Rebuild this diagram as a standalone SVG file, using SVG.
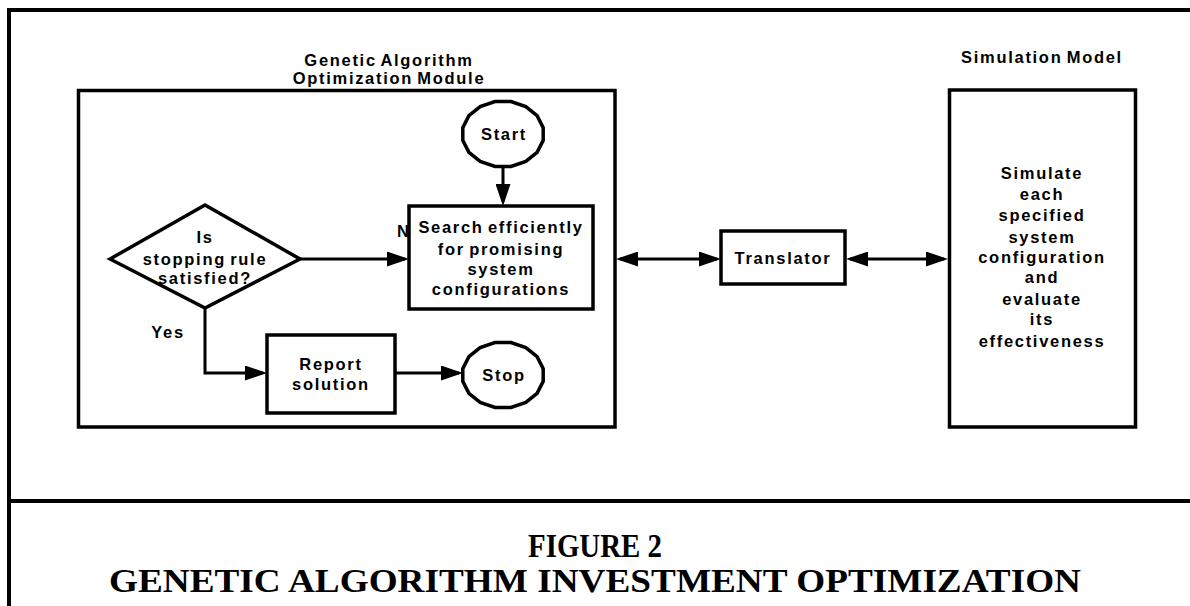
<svg xmlns="http://www.w3.org/2000/svg" width="1190" height="606" viewBox="0 0 1190 606">
  <style>
    .frame { fill: none; stroke: #000; stroke-width: 4; }
    .box { fill: #fff; stroke: #000; stroke-width: 3.5; stroke-linejoin: miter; }
    .wire { fill: none; stroke: #000; stroke-width: 3; }
    .lbl { font-family: "Liberation Sans", Arial, sans-serif; font-weight: bold; font-size: 16.5px; letter-spacing: 1.7px; word-spacing: -2px; text-anchor: middle; fill: #000; }
    .cap { font-family: "Liberation Serif", "Times New Roman", serif; font-weight: bold; font-size: 34px; text-anchor: middle; fill: #000; }
  </style>
  <defs>
    <marker id="head" viewBox="0 0 22 15" refX="18" refY="7.5" markerWidth="22" markerHeight="15" markerUnits="userSpaceOnUse" orient="auto-start-reverse">
      <path d="M0,0 L22,7.5 L0,15 Z" fill="#000"/>
    </marker>
    <!-- sixteen-sided terminal shape, centred on the origin -->
    <polygon id="terminal" points="40.2,6.4 34.1,18.3 22.8,27.4 8,32.4 -8,32.4 -22.8,27.4 -34.1,18.3 -40.2,6.4 -40.2,-6.4 -34.1,-18.3 -22.8,-27.4 -8,-32.4 8,-32.4 22.8,-27.4 34.1,-18.3 40.2,-6.4"/>
  </defs>

  <rect width="1190" height="606" fill="#fff"/>

  <!-- page frame and caption divider -->
  <g id="frame">
    <path class="frame" d="M9,606 V10 H1190"/>
    <line class="frame" x1="7" y1="501" x2="1190" y2="501"/>
  </g>

  <!-- optimisation module container -->
  <g id="ga-module">
    <rect class="box" x="78.5" y="90.5" width="536.5" height="336.5"/>
    <text class="lbl" x="389" y="66">Genetic Algorithm</text>
    <text class="lbl" x="389" y="84">Optimization Module</text>
  </g>

  <!-- simulation model container -->
  <g id="sim-model">
    <rect class="box" x="949.5" y="90" width="186" height="337"/>
    <text class="lbl" x="1042" y="63">Simulation Model</text>
    <text class="lbl" x="1042" y="179">Simulate</text>
    <text class="lbl" x="1042" y="200">each</text>
    <text class="lbl" x="1042" y="221">specified</text>
    <text class="lbl" x="1042" y="243">system</text>
    <text class="lbl" x="1042" y="263">configuration</text>
    <text class="lbl" x="1042" y="283">and</text>
    <text class="lbl" x="1042" y="305">evaluate</text>
    <text class="lbl" x="1042" y="325">its</text>
    <text class="lbl" x="1042" y="347">effectiveness</text>
  </g>

  <!-- connectors -->
  <g id="connectors">
    <line class="wire" x1="503" y1="166" x2="503" y2="202" marker-end="url(#head)"/>
    <line class="wire" x1="300" y1="259" x2="405" y2="259" marker-end="url(#head)"/>
    <path class="wire" d="M205,308 V373 H263" marker-end="url(#head)"/>
    <line class="wire" x1="395" y1="373" x2="459" y2="373" marker-end="url(#head)"/>
    <line class="wire" x1="620" y1="259" x2="717" y2="259" marker-start="url(#head)" marker-end="url(#head)"/>
    <line class="wire" x1="850" y1="259" x2="944" y2="259" marker-start="url(#head)" marker-end="url(#head)"/>
  </g>

  <g id="start">
    <use href="#terminal" x="503" y="134" class="box"/>
    <text class="lbl" x="504" y="140">Start</text>
  </g>

  <g id="decision">
    <polygon class="box" points="110,259 205,205 300,259 205,308"/>
    <text class="lbl" x="205" y="243">Is</text>
    <text class="lbl" x="205" y="265">stopping rule</text>
    <text class="lbl" x="205" y="284">satisfied?</text>
    <text class="lbl" x="168" y="338">Yes</text>
    <text class="lbl" x="397" y="237" style="text-anchor:start">N</text>
  </g>

  <g id="search">
    <rect class="box" x="409" y="206" width="184" height="103"/>
    <text class="lbl" x="501" y="233">Search efficiently</text>
    <text class="lbl" x="501" y="255">for promising</text>
    <text class="lbl" x="501" y="275">system</text>
    <text class="lbl" x="501" y="295">configurations</text>
  </g>

  <g id="report">
    <rect class="box" x="267" y="335" width="128" height="78"/>
    <text class="lbl" x="331" y="370">Report</text>
    <text class="lbl" x="331" y="390">solution</text>
  </g>

  <g id="stop">
    <use href="#terminal" x="503" y="375" class="box"/>
    <text class="lbl" x="504" y="381">Stop</text>
  </g>

  <g id="translator">
    <rect class="box" x="721" y="231" width="124" height="53"/>
    <text class="lbl" x="783" y="264">Translator</text>
  </g>

  <!-- caption -->
  <g id="caption">
    <text class="cap" x="595" y="557" textLength="134" lengthAdjust="spacingAndGlyphs">FIGURE 2</text>
    <text class="cap" x="595" y="592" textLength="972" lengthAdjust="spacingAndGlyphs">GENETIC ALGORITHM INVESTMENT OPTIMIZATION</text>
  </g>
</svg>
